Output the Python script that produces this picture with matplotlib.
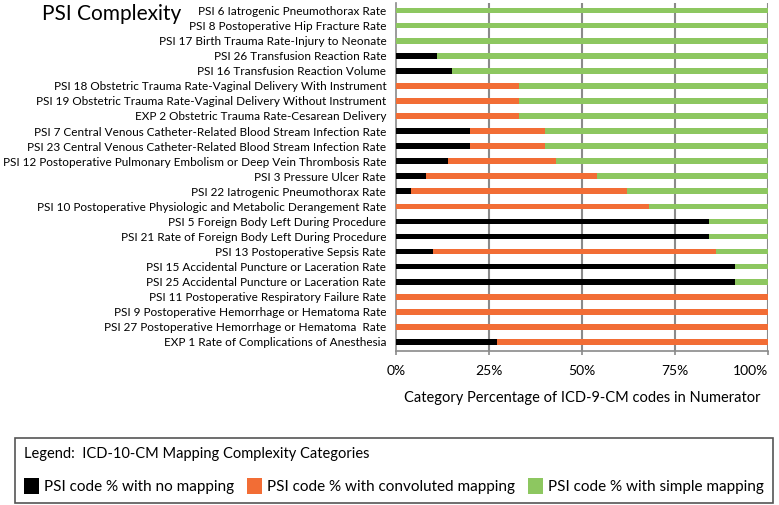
import matplotlib
matplotlib.use('Agg')
import matplotlib.pyplot as plt
from matplotlib.patches import Patch
import numpy as np

plt.rcParams['font.family'] = ['Lato', 'DejaVu Sans']

measures = [
    'PSI 6 Iatrogenic Pneumothorax Rate',
    'PSI 8 Postoperative Hip Fracture Rate',
    'PSI 17 Birth Trauma Rate-Injury to Neonate',
    'PSI 26 Transfusion Reaction Rate',
    'PSI 16 Transfusion Reaction Volume',
    'PSI 18 Obstetric Trauma Rate-Vaginal Delivery With Instrument',
    'PSI 19 Obstetric Trauma Rate-Vaginal Delivery Without Instrument',
    'EXP 2 Obstetric Trauma Rate-Cesarean Delivery',
    'PSI 7 Central Venous Catheter-Related Blood Stream Infection Rate',
    'PSI 23 Central Venous Catheter-Related Blood Stream Infection Rate',
    'PSI 12 Postoperative Pulmonary Embolism or Deep Vein Thrombosis Rate',
    'PSI 3 Pressure Ulcer Rate',
    'PSI 22 Iatrogenic Pneumothorax Rate',
    'PSI 10 Postoperative Physiologic and Metabolic Derangement Rate',
    'PSI 5 Foreign Body Left During Procedure',
    'PSI 21 Rate of Foreign Body Left During Procedure',
    'PSI 13 Postoperative Sepsis Rate',
    'PSI 15 Accidental Puncture or Laceration Rate',
    'PSI 25 Accidental Puncture or Laceration Rate',
    'PSI 11 Postoperative Respiratory Failure Rate',
    'PSI 9 Postoperative Hemorrhage or Hematoma Rate',
    'PSI 27 Postoperative Hemorrhage or Hematoma  Rate',
    'EXP 1 Rate of Complications of Anesthesia',
]

# percent of codes in each category
no_mapping = np.array([0, 0, 0, 11, 15, 0, 0, 0, 20, 20, 14, 8, 4, 0,
                       84, 84, 10, 91, 91, 0, 0, 0, 27])
convoluted = np.array([0, 0, 0, 0, 0, 33, 33, 33, 20, 20, 29, 46, 58, 68,
                       0, 0, 76, 0, 0, 100, 100, 100, 73])
simple = 100 - no_mapping - convoluted

tick_labels = ['0%', '25%', '50%', '75%', '100%']

black = '#000000'
orange = '#F26D35'
green = '#8DC760'
grid_c = '#8A8A8A'

fig = plt.figure(figsize=(7.79, 5.05), dpi=100)
ax = fig.add_axes([396/779, 1 - 351/505, (768.3 - 396)/779, (351 - 3)/505])

y = np.arange(len(measures))
h = 0.38
ax.barh(y, no_mapping, height=h, color=black, zorder=3)
ax.barh(y, convoluted, left=no_mapping, height=h, color=orange, zorder=3)
ax.barh(y, simple, left=no_mapping + convoluted, height=h, color=green, zorder=3)

ax.set_ylim(len(measures) - 1 + 0.6, -0.5)
ax.set_xlim(0, 100)
ax.set_yticks(y)
ax.set_yticklabels(measures, fontsize=8.5)
ax.tick_params(axis='y', length=0, pad=7)
ax.set_xticks([0, 25, 50, 75, 100])
ax.set_xticklabels(tick_labels, fontsize=10)
ax.tick_params(axis='x', length=3, color=grid_c, width=1.2, pad=7)
# keep the last label inside the figure, as in the original
ax.get_xticklabels()[-1].set_horizontalalignment('right')

for x in [25, 50, 75, 100]:
    ax.axvline(x, color=grid_c, lw=1.5, zorder=1)

for s in ['top', 'right']:
    ax.spines[s].set_visible(False)
for s in ['left', 'bottom']:
    ax.spines[s].set_color(grid_c)
    ax.spines[s].set_linewidth(1.2)

ax.set_xlabel('Category Percentage of ICD-9-CM codes in Numerator', fontsize=10.5, labelpad=10)

fig.text(42/779, 1 - 14/505, 'PSI Complexity', fontsize=15, ha='left', va='center')

handles = [Patch(facecolor=black), Patch(facecolor=orange), Patch(facecolor=green)]
labels = ['PSI code % with no mapping', 'PSI code % with convoluted mapping',
          'PSI code % with simple mapping']
leg = fig.legend(handles, labels, ncol=3, loc='lower left',
                 bbox_to_anchor=(15/779, 1 - 503/505, (772.7 - 15)/779, (503 - 436)/505),
                 mode='expand', title='Legend:  ICD-10-CM Mapping Complexity Categories',
                 alignment='left', fontsize=11, title_fontsize=10.5,
                 handlelength=1.0, handleheight=1.2, handletextpad=0.3,
                 columnspacing=1.5, borderaxespad=0, borderpad=0.6,
                 labelspacing=1.1,
                 fancybox=False, edgecolor='#555555', framealpha=1)
leg.get_frame().set_linewidth(1.2)

fig.savefig('out.png', dpi=100)
